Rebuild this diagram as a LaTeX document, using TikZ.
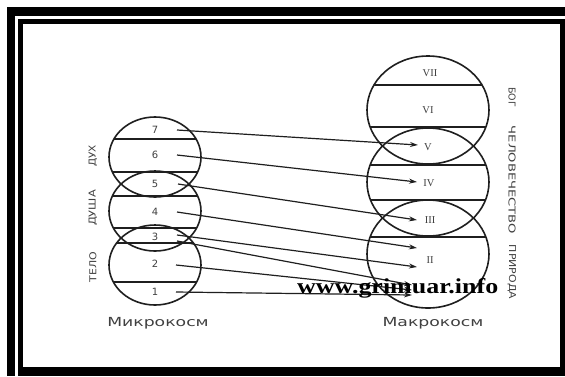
\documentclass[tikz,border=0pt]{standalone}
\usepackage{graphicx}
\usepackage{fontspec}
\setmainfont{DejaVu Sans}
\newfontfamily\serifnum{Liberation Serif}
\usetikzlibrary{arrows.meta}
\definecolor{ink}{gray}{0.12}
\definecolor{txt}{gray}{0.25}
\begin{document}
\begin{tikzpicture}[x=1pt,y=-1pt,
  circ/.style={draw=ink, line width=1.6pt},
  divline/.style={draw=ink, line width=1.5pt},
  arr/.style={draw=ink, line width=1.2pt, -{Stealth[length=8pt,width=5pt]}},
  num/.style={text=txt, font=\fontsize{10}{10}\selectfont, inner sep=0pt},
  rom/.style={text=txt, font=\serifnum\fontsize{10.5}{10.5}\selectfont, inner sep=0pt},
  side/.style={text=txt, font=\fontsize{9.5}{9.5}\selectfont, inner sep=0pt},
  captext/.style={text=txt, font=\fontsize{12.5}{12.5}\selectfont, inner sep=0pt},
  framebar/.style={fill=black}]
\useasboundingbox (0,0) rectangle (565,376);
\fill[white] (0,0) rectangle (565,376);
% frame
\fill[framebar] (7,7) rectangle (565,16);
\fill[framebar] (7,7) rectangle (15,376);
\fill[framebar] (18,19) rectangle (565,24);
\fill[framebar] (18,19) rectangle (23,376);
\fill[framebar] (560,19) rectangle (565,376);
\fill[framebar] (18,367) rectangle (565,376);
% left circles
\begin{scope}
\clip (155,157) ellipse [x radius=46, y radius=40]
      (155,211) ellipse [x radius=46, y radius=40]
      (155,265) ellipse [x radius=46, y radius=40];
\foreach \yy in {139,172,196,228,243,282} \draw[divline] (100,\yy) -- (215,\yy);
\end{scope}
\draw[circ] (155,157) ellipse [x radius=46, y radius=40];
\draw[circ] (155,211) ellipse [x radius=46, y radius=40];
\draw[circ] (155,265) ellipse [x radius=46, y radius=40];
% right circles
\begin{scope}
\clip (428,110) ellipse [x radius=61, y radius=54]
      (428,182) ellipse [x radius=61, y radius=54]
      (428,254) ellipse [x radius=61, y radius=54];
\foreach \yy in {85,127,165,200,237} \draw[divline] (360,\yy) -- (495,\yy);
\end{scope}
\draw[circ] (428,110) ellipse [x radius=61, y radius=54];
\draw[circ] (428,182) ellipse [x radius=61, y radius=54];
\draw[circ] (428,254) ellipse [x radius=61, y radius=54];
% numbers
\node[num] (n7) at (155,130) {7};
\node[num] (n6) at (155,155) {6};
\node[num] (n5) at (155,184) {5};
\node[num] (n4) at (155,212) {4};
\node[num] (n3) at (155,237) {3};
\node[num] (n2) at (155,264) {2};
\node[num] (n1) at (155,292) {1};
\node[rom] (r7) at (430,73) {VII};
\node[rom] (r6) at (428,110) {VI};
\node[rom] (r5) at (428,147) {V};
\node[rom] (r4) at (429,183) {IV};
\node[rom] (r3) at (430,220) {III};
\node[rom] (r2) at (430,260) {II};
% arrow ends
\coordinate (s7) at (177,130);
\coordinate (s6) at (177,155);
\coordinate (s5) at (178,184);
\coordinate (s4) at (177,212);
\coordinate (s3a) at (177,235);
\coordinate (s3b) at (177,241);
\coordinate (s2) at (176,265);
\coordinate (s1) at (176,292);
\coordinate (t5) at (418,145);
\coordinate (t4) at (417,182);
\coordinate (t3) at (417,220);
\coordinate (t2a) at (417,248);
\coordinate (t2b) at (417,267);
\coordinate (t1a) at (412,285);
\coordinate (t1b) at (412,290);
\coordinate (t1c) at (412,295);
\draw[arr] (s7) -- (t5);
\draw[arr] (s6) -- (t4);
\draw[arr] (s5) -- (t3);
\draw[arr] (s4) -- (t2a);
\draw[arr] (s3a) -- (t2b);
\draw[arr] (s3b) -- (t1a);
\draw[arr] (s2) -- (t1b);
\draw[arr] (s1) -- (t1c);
% side labels
\node[side, rotate=90] (duh) at (93,156) {\scalebox{1.1}[1]{ДУХ}};
\node[side, rotate=90] (dusha) at (93,208) {\scalebox{1.2}[1]{ДУША}};
\node[side, rotate=90] (telo) at (93,267) {\scalebox{1.15}[1]{ТЕЛО}};
\node[side, rotate=-90] (bog) at (512,97) {\scalebox{1.0}[1]{БОГ}};
\node[side, rotate=-90] (chel) at (512,180) {\scalebox{1.38}[1]{ЧЕЛОВЕЧЕСТВО}};
\node[side, rotate=-90] (prir) at (512,272) {\scalebox{1.15}[1]{ПРИРОДА}};
% captions
\node[captext] (mikro) at (158,323) {\scalebox{1.38}[1]{Микрокосм}};
\node[captext] (makro) at (433,323) {\scalebox{1.38}[1]{Макрокосм}};
% watermark
\node[inner sep=0pt, anchor=base west] (wm) at (297,293)
  {\resizebox{201pt}{15pt}{\serifnum\bfseries www.grimuar.info}};
\end{tikzpicture}
\end{document}
